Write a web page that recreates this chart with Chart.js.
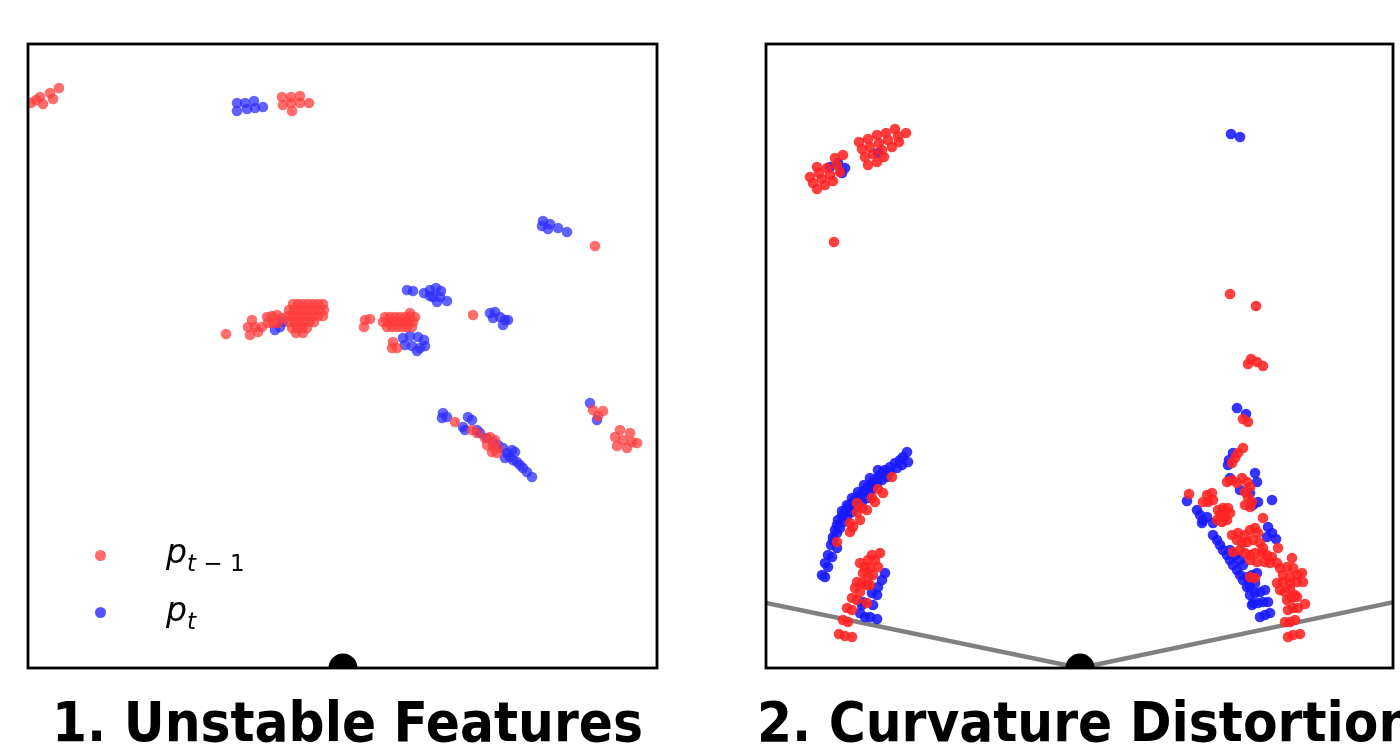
<!DOCTYPE html>
<html>
<head>
<meta charset="utf-8">
<script src="https://cdn.jsdelivr.net/npm/chart.js@4.4.1/dist/chart.umd.min.js"></script>
<style>
    body { margin: 0; background: #fff; width: 1400px; height: 746px; overflow: hidden; position: relative; }
    canvas { position: absolute; }
    .title { position: absolute; font-family: "DejaVu Sans", sans-serif; font-stretch: condensed; font-weight: bold; font-size: 56px; white-space: nowrap; color: #000; line-height: 1; }
    .leg { position: absolute; font-family: "DejaVu Sans", sans-serif; color: #000; white-space: nowrap; line-height: 1; }
    .leg .p { font-style: italic; font-size: 33px; }
    .leg .s { font-size: 23px; position: relative; top: 8px; }
    .dot { position: absolute; width: 11px; height: 11px; border-radius: 50%; }
</style>
</head>
<body>
<canvas id="leftChart" style="left:18px; top:34px;" width="649" height="644"></canvas>
<canvas id="rightChart" style="left:756px; top:34px;" width="647" height="644"></canvas>

<div class="dot" style="left:95px; top:550px; background:rgba(255,70,70,0.8);"></div>
<div class="dot" style="left:95px; top:607px; background:rgba(40,40,255,0.8);"></div>
<div class="leg" style="left:166px; top:535px;"><span class="p">p</span><span class="s"><i>t</i> − 1</span></div>
<div class="leg" style="left:166px; top:593px;"><span class="p">p</span><span class="s"><i>t</i></span></div>

<div class="title" id="t1" style="left:52px; top:694px;">1. Unstable Features</div>
<div class="title" id="t2" style="left:757px; top:694px;">2. Curvature Distortion</div>

<script>
// units: cm, sensor at (0, 0) bottom centre of each panel

// panel 1 - unstable features
var leftPrev = [
    [-312,565],[-303,571],[-300,564],[-293,575],[-290,569],[-284,580],[-307,568],
    [-61,571],[-52,571],[-43,572],[-34,565],[-60,563],[-52,565],[-43,565],[-51,557],
    [-117,334],
    [-91,348],[-95,341],[-88,341],[-93,333],[-85,336],[-81,341],
    [-76,351],[-71,352],[-66,353],[-61,350],[-75,345],[-70,345],[-65,345],
    [-50,364],[-45,364],[-40,364],[-35,364],[-30,364],[-25,364],[-20,364],
    [-54,358],[-49,358],[-44,358],[-39,358],[-34,358],[-29,358],[-24,358],[-19,358],
    [-55,352],[-50,352],[-45,352],[-40,352],[-35,352],[-30,352],[-25,352],[-20,352],
    [-54,346],[-49,346],[-44,346],[-39,346],[-34,346],[-29,346],
    [-51,340],[-46,340],[-41,340],[-36,340],[-47,335],[-40,335],
    [22,348],[27,349],[21,341],
    [67,355],
    [42,351],[47,351],[52,351],[57,351],[62,351],[67,351],[72,351],
    [40,346],[45,346],[50,346],[55,346],[60,346],[65,346],[70,346],
    [44,341],[49,341],[54,341],[59,341],[64,341],[69,341],
    [50,326],[54,320],[49,320],
    [252,422],[130,353],
    [112,246],[129,238],[134,235],[142,230],[147,231],[152,228],[144,223],[150,221],[155,220],[149,216],[154,215],
    [250,258],[260,257],[255,252],
    [277,238],[287,235],[272,231],[280,228],[294,225],[274,222],[284,220],[289,226]
];
var leftCurr = [
    [-106,565],[-98,565],[-89,567],[-80,561],[-106,557],[-96,559],[-88,560],
    [-68,338],[-63,341],[-60,346],
    [60,330],[67,332],[75,331],[81,328],[62,323],[69,322],[77,320],[74,317],[82,322],
    [64,378],[70,377],
    [81,375],[87,378],[93,380],[98,377],[90,371],[97,371],[104,367],[94,366],[87,372],
    [200,447],[207,444],[199,442],[205,439],[215,440],[224,436],
    [147,355],[152,356],[157,351],[162,348],[165,348],[150,350],[160,343],
    [100,255],[104,251],[99,250],[125,251],[129,248],[120,241],[122,238],[134,238],[137,235],
    [144,230],[150,226],[155,223],[160,220],[164,215],[167,211],[170,208],[174,206],[177,203],
    [180,200],[184,196],[189,191],[169,218],[172,216],[162,210],
    [247,265],[254,248]
];

// panel 2 - curvature distortion
var rightPrev = [
    [-270,491],[-267,485],[-263,479],[-263,501],[-261,495],[-258,489],[-255,483],[-253,500],
    [-250,493],[-247,487],[-245,510],[-243,503],[-240,496],[-237,513],
    [-221,526],[-218,519],[-215,511],[-212,503],[-212,529],[-210,521],[-207,514],[-203,506],
    [-203,533],[-201,525],[-198,518],[-196,511],[-194,535],[-192,528],[-188,521],[-185,539],
    [-182,532],[-181,526],[-174,535],
    [-246,426],
    [-188,191],[-202,179],[-197,175],[-208,170],[-205,166],[-223,165],[-218,160],[-213,158],
    [-223,156],[-220,148],[-230,145],[-227,141],[-230,136],[-243,126],
    [-200,115],[-208,113],[-205,108],[-212,108],[-220,105],[-215,101],[-210,100],[-202,101],
    [-217,95],[-212,91],[-207,93],[-223,86],[-218,85],[-213,83],[-210,83],[-225,80],[-220,76],
    [-228,70],[-223,68],[-233,60],[-228,58],[-237,48],[-232,46],[-241,34],[-235,32],[-228,31],[-213,65],
    [150,374],[176,362],
    [171,309],[168,304],[177,306],[183,302],
    [163,249],[168,246],[163,220],[158,215],[155,210],[152,205],
    [147,186],[152,188],[157,185],[162,190],[167,186],[170,181],[165,176],[168,171],[172,166],[165,163],[170,161],
    [109,174],
    [127,173],[132,175],[123,166],[128,166],[133,168],[138,158],[143,160],[148,160],[140,153],[145,151],
    [150,155],[137,148],[142,146],[147,148],
    [183,150],
    [152,133],[158,135],[165,133],[170,138],[175,140],[178,135],[157,128],[162,125],[167,126],[173,128],
    [180,125],[183,120],[160,118],[165,115],[170,113],[175,115],[182,115],[187,113],[192,111],[198,120],
    [170,108],[177,106],[185,106],[190,105],[197,105],[212,110],
    [200,100],[207,101],[213,100],[203,93],[210,91],[217,93],[222,95],[197,85],[203,86],[210,85],
    [217,86],[223,86],[200,78],[205,76],[210,79],[215,73],[207,68],[212,70],[217,71],[225,64],
    [208,58],[213,60],[218,60],[205,46],[210,46],[215,48],[208,31],[213,33],[220,34],
    [170,91],[175,90],[153,116]
];
var rightCurr = [
    [-250,501],[-242,505],[-235,500],[-238,495],[-202,515],
    [-173,216],[-177,211],[-180,208],[-185,205],[-190,201],[-195,198],[-198,195],[-202,191],
    [-205,188],[-208,185],[-212,181],[-215,178],[-218,175],[-222,171],[-225,168],[-228,165],
    [-232,161],[-235,156],[-238,152],[-242,148],[-243,143],[-245,138],[-247,131],[-249,123],
    [-252,113],[-255,105],[-258,93],
    [-172,206],[-178,203],[-183,200],[-190,196],[-193,191],[-198,188],[-203,185],[-207,180],
    [-210,175],[-213,170],[-218,166],[-223,161],[-228,156],[-233,151],[-237,146],[-240,140],
    [-243,135],[-247,128],[-243,120],[-248,111],[-252,101],[-255,91],
    [-202,198],[-210,190],[-216,183],[-222,176],[-228,170],[-233,163],[-238,157],
    [-195,95],[-198,88],[-202,81],[-208,75],[-203,73],[-217,66],[-207,63],[-220,55],
    [-215,51],[-210,51],[-203,49],[-218,63],
    [151,534],[160,531],
    [157,260],[166,254],
    [153,215],[149,208],[148,203],
    [175,195],[177,186],[160,178],[170,175],[178,166],[173,163],[150,190],[192,168],
    [107,167],
    [117,158],[120,153],[123,148],[122,145],[127,151],[133,145],
    [188,141],[192,135],[196,129],[187,131],
    [133,133],[137,128],[140,123],[143,118],[147,113],[150,108],[153,103],[157,98],[160,93],
    [163,88],[167,81],[170,73],[172,63],[180,51],[185,53],[190,55],[173,65],[178,65],[183,66],
    [188,66],[175,75],[180,76],[185,78],[170,81],[175,85],[167,91],[172,93],[177,95],
    [150,118],[155,113],[160,108],[163,103]
];
var fovLine = [[-314,65],[0,0],[314,66]];
var sensor = [[0,0]];

function pts(arr) {
    return arr.map(function (p) { return { x: p[0], y: p[1] }; });
}

// black frame round the plot area
var framePlugin = {
    id: 'frame',
    afterDatasetsDraw: function (chart) {
        var a = chart.chartArea;
        var ctx = chart.ctx;
        ctx.save();
        ctx.strokeStyle = '#000';
        ctx.lineWidth = 2.8;
        ctx.strokeRect(a.left, a.top, a.right - a.left, a.bottom - a.top);
        ctx.restore();
    }
};

function makeChart(id, prev, curr, xmin, xmax, withFov, colours) {
    var datasets = [
        { label: 'sensor', data: pts(sensor), pointRadius: 14.5, pointBackgroundColor: '#000', pointBorderWidth: 0, order: 0, clip: 0 },
        { label: 'p_{t-1}', data: pts(prev), pointRadius: 5.3, pointBackgroundColor: colours.red, pointBorderWidth: 0, order: 1, clip: 0 },
        { label: 'p_t', data: pts(curr), pointRadius: 5.3, pointBackgroundColor: colours.blue, pointBorderWidth: 0, order: 2, clip: 0 }
    ];
    if (withFov) {
        datasets.push({ type: 'line', label: 'fov', data: pts(fovLine), borderColor: '#808080', borderWidth: 4.5, pointRadius: 0, order: 3, clip: 0, fill: false });
    }
    return new Chart(document.getElementById(id), {
        type: 'scatter',
        data: { datasets: datasets },
        plugins: [framePlugin],
        options: {
            responsive: false,
            animation: false,
            layout: { padding: 10, autoPadding: false },
            plugins: { legend: { display: false }, tooltip: { enabled: false } },
            scales: {
                x: { type: 'linear', min: xmin, max: xmax, display: false },
                y: { type: 'linear', min: 0, max: 624, display: false }
            }
        }
    });
}

makeChart('leftChart', leftPrev, leftCurr, -315, 314, false,
    { red: 'rgba(255,60,60,0.75)', blue: 'rgba(45,45,255,0.75)' });
makeChart('rightChart', rightPrev, rightCurr, -314, 313, true,
    { red: 'rgba(255,35,35,0.88)', blue: 'rgba(25,25,255,0.88)' });
</script>
</body>
</html>
